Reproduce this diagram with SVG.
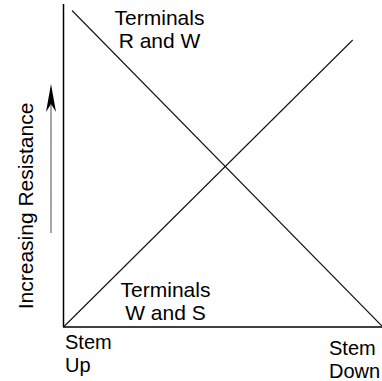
<svg xmlns="http://www.w3.org/2000/svg" width="382" height="381" viewBox="0 0 382 381">
<style>
.lbl{font-family:"Liberation Sans",Arial,sans-serif;font-size:21px;fill:#000}
.sm{font-size:20px}
.ax{stroke:#000;stroke-width:1.5;fill:none}
.curve{stroke:#111;stroke-width:1.1;fill:none}
</style>
<rect width="382" height="381" fill="#fff"/>
<g id="connectors">
<line id="axis-y" class="ax" x1="63.5" y1="4" x2="63.5" y2="327"/>
<line id="axis-x" class="ax" x1="63" y1="327" x2="382" y2="327" stroke="#333"/>
<line id="line-rw" class="curve" x1="72" y1="10.5" x2="382" y2="326"/>
<line id="line-ws" class="curve" x1="63.5" y1="327" x2="352.7" y2="40"/>
<line id="arrow-shaft" x1="51" y1="233" x2="51" y2="104" stroke="#808080" stroke-width="1.4"/>
<polygon id="arrow-head" points="51,84 56,112 51,104 46,112" fill="#000"/>
</g>
<g id="label-rw">
<text class="lbl" x="159.5" y="25" text-anchor="middle">Terminals</text>
<text class="lbl" x="159.5" y="48.3" text-anchor="middle">R and W</text>
</g>
<g id="label-ws">
<text class="lbl" x="165.5" y="296.7" text-anchor="middle">Terminals</text>
<text class="lbl" x="165.5" y="320" text-anchor="middle">W and S</text>
</g>
<g id="label-up">
<text class="lbl sm" x="65" y="349">Stem</text>
<text class="lbl sm" x="65" y="372.3">Up</text>
</g>
<g id="label-down">
<text class="lbl sm" x="329" y="355">Stem</text>
<text class="lbl sm" x="329" y="378">Down</text>
</g>
<g id="label-resistance">
<text class="lbl" transform="translate(33,206) rotate(-90)" text-anchor="middle">Increasing Resistance</text>
</g>
</svg>
